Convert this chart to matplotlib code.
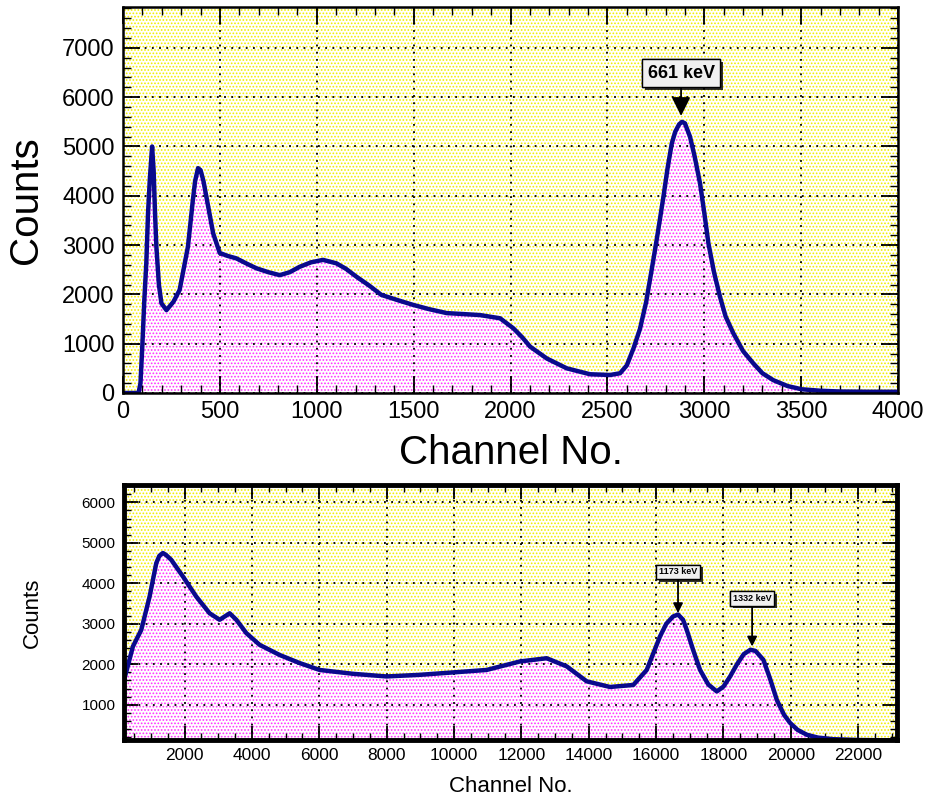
import matplotlib
matplotlib.use('Agg')
import matplotlib.pyplot as plt
import matplotlib.ticker as ticker
import matplotlib.patheffects as pe
from matplotlib.patches import Rectangle

plt.rcParams['font.family'] = ['Liberation Sans', 'DejaVu Sans']
plt.rcParams['hatch.linewidth'] = 0.8

# Cs-137 spectrum (top)
cs_channel = [0, 80, 90, 100, 110, 120, 129, 138, 150, 158, 165, 172, 185, 198, 224, 260, 292,
              335, 360, 372, 387, 400, 415, 430, 465, 499, 540, 585, 640, 688, 750, 809, 860,
              912, 970, 1032, 1101, 1150, 1204, 1270, 1333, 1420, 1499, 1580, 1671, 1760,
              1843, 1946, 2015, 2060, 2101, 2187, 2290, 2410, 2514, 2565, 2600, 2634, 2668,
              2700, 2737, 2760, 2789, 2810, 2832, 2850, 2870, 2885, 2900, 2926, 2950, 2978,
              3000, 3021, 3050, 3081, 3110, 3150, 3200, 3253, 3300, 3356, 3430, 3503, 3600,
              3700, 3850, 4000]
cs_counts = [0, 0, 200, 1000, 1900, 2630, 3650, 4320, 5000, 4500, 3650, 2970, 2200, 1820, 1680,
             1850, 2090, 2970, 3900, 4300, 4560, 4520, 4300, 3980, 3240, 2840, 2780, 2730,
             2620, 2530, 2450, 2390, 2450, 2560, 2650, 2700, 2630, 2520, 2360, 2180, 1990,
             1880, 1785, 1700, 1620, 1600, 1580, 1515, 1310, 1130, 940, 700, 500, 380, 365,
             400, 560, 900, 1300, 1850, 2700, 3250, 3980, 4550, 5060, 5300, 5450, 5500, 5470,
             5200, 4800, 4250, 3650, 3040, 2450, 1950, 1550, 1210, 850, 600, 400, 260, 140,
             75, 45, 30, 25, 25]

# Co-60 spectrum (bottom)
co_channel = [200, 465, 713, 960, 1159, 1250, 1355, 1450, 1604, 1950, 2348, 2743, 3040, 3337,
              3536, 3833, 4229, 4823, 5418, 6012, 7003, 7993, 8984, 9974, 10964, 11955, 12749,
              13343, 13937, 14630, 15322, 15720, 16116, 16300, 16500, 16650, 16800, 16909,
              17100, 17305, 17550, 17801, 18000, 18197, 18400, 18600, 18800, 18950, 19186,
              19400, 19583, 19800, 19979, 20200, 20475, 20800, 21267, 22000, 23150]
co_counts = [1600, 2440, 2850, 3670, 4500, 4680, 4750, 4700, 4580, 4170, 3670, 3260, 3100, 3260,
             3100, 2770, 2480, 2230, 2030, 1860, 1765, 1700, 1740, 1800, 1860, 2070, 2150,
             1950, 1580, 1440, 1490, 1860, 2690, 3000, 3180, 3230, 3100, 2850, 2350, 1860,
             1500, 1330, 1450, 1700, 2000, 2250, 2360, 2330, 2110, 1600, 1120, 750, 550,
             380, 260, 190, 150, 130, 120]

cs_peaks = [('661 keV', 2880, 5620, 6490)]
co_peaks = [('1173 keV', 16650, 3265, 4284), ('1332 keV', 18850, 2440, 3630)]

line_col = '#0a0a8c'


def style_axes(ax, frame_lw):
    bg = Rectangle((0, 0), 1, 1, transform=ax.transAxes, facecolor='white',
                   edgecolor='#f4ee00', linewidth=0, hatch='.....', zorder=0.1)
    ax.add_patch(bg)
    ax.grid(True, which='major', color='black', linestyle=(0, (1, 3)), linewidth=1.3)
    ax.set_axisbelow(False)
    for s in ax.spines.values():
        s.set_linewidth(frame_lw)
        s.set_zorder(5)
    ax.tick_params(which='both', direction='in', top=True, right=True)


def draw_spectrum(ax, x, y):
    ax.fill_between(x, y, 0, facecolor='white', edgecolor='#ff30ff', linewidth=0,
                    hatch='.....', zorder=1)
    ax.plot(x, y, color=line_col, linewidth=3.2, zorder=3, solid_joinstyle='round')


def add_label(ax, text, x, ytip, ybox, size):
    ann = ax.annotate(text, xy=(x, ytip), xytext=(x, ybox), ha='center', va='center',
                      fontsize=size, fontweight='bold', zorder=6,
                      bbox=dict(boxstyle='square,pad=0.3', fc='#f0f0f0', ec='black', lw=1),
                      arrowprops=dict(arrowstyle='-|>', color='black', lw=1.3,
                                      mutation_scale=max(size * 2.2, 14), shrinkA=0, shrinkB=0))
    ann.get_bbox_patch().set_path_effects(
        [pe.withSimplePatchShadow(offset=(2, -2), shadow_rgbFace='black', alpha=0.8), pe.Normal()])


fig = plt.figure(figsize=(9.35, 8.02), dpi=100)

# top panel
ax1 = fig.add_axes([0.1316, 0.51, 0.8289, 0.4813])
style_axes(ax1, 1.8)
draw_spectrum(ax1, cs_channel, cs_counts)
ax1.set_xlim(0, 4000)
ax1.set_ylim(0, 7830)
ax1.xaxis.set_major_locator(ticker.MultipleLocator(500))
ax1.xaxis.set_minor_locator(ticker.MultipleLocator(100))
ax1.yaxis.set_major_locator(ticker.MultipleLocator(1000))
ax1.yaxis.set_minor_locator(ticker.MultipleLocator(200))
ax1.tick_params(which='major', length=12, width=1.3, labelsize=17, pad=6)
ax1.tick_params(which='minor', length=6, width=1.0)
ax1.set_xlabel('Channel No.', fontsize=29, labelpad=8)
ax1.set_ylabel('Counts', fontsize=29, labelpad=12)
for text, x, ytip, ybox in cs_peaks:
    add_label(ax1, text, x, ytip, ybox, 13)

# bottom panel
ax2 = fig.add_axes([0.1326, 0.0773, 0.8267, 0.318])
style_axes(ax2, 3.5)
draw_spectrum(ax2, co_channel, co_counts)
ax2.set_xlim(200, 23150)
ax2.set_ylim(130, 6430)
ax2.xaxis.set_major_locator(ticker.MultipleLocator(2000))
ax2.xaxis.set_minor_locator(ticker.MultipleLocator(500))
ax2.yaxis.set_major_locator(ticker.MultipleLocator(1000))
ax2.yaxis.set_minor_locator(ticker.MultipleLocator(200))
ax2.tick_params(which='major', length=10, width=1.3, pad=6)
ax2.tick_params(axis='x', labelsize=12.5)
ax2.tick_params(axis='y', labelsize=11)
ax2.tick_params(which='minor', length=5, width=1.0)
ax2.set_xlabel('Channel No.', fontsize=16, labelpad=9)
ax2.set_ylabel('Counts', fontsize=16, labelpad=28)
for text, x, ytip, ybox in co_peaks:
    add_label(ax2, text, x, ytip, ybox, 6.5)

fig.savefig('out.png', dpi=100)
